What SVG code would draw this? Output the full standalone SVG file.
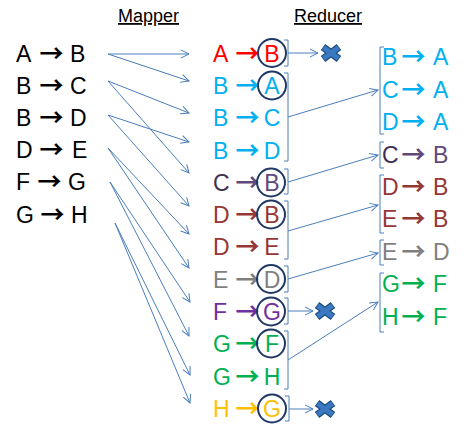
<svg xmlns="http://www.w3.org/2000/svg" width="469" height="436" viewBox="0 0 469 436">
<style>
text{font-family:"Liberation Sans","DejaVu Sans",sans-serif;font-size:23px}
.ar{font-family:"Noto Sans CJK SC","DejaVu Sans",sans-serif;font-weight:bold;font-size:24px}
.hd{font-size:18px;text-decoration:underline}
.k{fill:#000}
.red{fill:#FF0000}.blu{fill:#00B0F0}.pur{fill:#5F497A}.dpu{fill:#403152}.dr{fill:#953735}.gr{fill:#7F7F7F}.vio{fill:#7030A0}.grn{fill:#00B050}.org{fill:#FFC000}
.ring{fill:none;stroke:#1F3864;stroke-width:2}
.br{fill:none;stroke:#4A7EBB;stroke-width:1}
.cn{fill:none;stroke:#4A7EBB;stroke-width:1;marker-end:url(#ah)}
</style>
<defs>
<marker id="ah" markerWidth="10" markerHeight="10" refX="9" refY="5" orient="auto" markerUnits="userSpaceOnUse">
<path d="M1,1 L9,5 L1,9" fill="none" stroke="#4A7EBB" stroke-width="1"/>
</marker>
<g id="xm">
<path d="M-8,-6 L8,6 M-8,6 L8,-6" stroke="#1F4E79" stroke-width="7.5" stroke-linecap="butt"/>
<path d="M-7.5,-5.6 L7.5,5.6 M-7.5,5.6 L7.5,-5.6" stroke="#3B78C2" stroke-width="5" stroke-linecap="butt"/>
</g>
</defs>

<text class="hd" x="118" y="22">Mapper</text>
<text class="hd" x="294" y="22">Reducer</text>

<g id="mapper">
<g id="m1"><text class="k" y="62"><tspan x="16">A</tspan> <tspan class="ar" x="39.5">→</tspan> <tspan x="70">B</tspan></text></g>
<g id="m2"><text class="k" y="94"><tspan x="16">B</tspan> <tspan class="ar" x="39.5">→</tspan> <tspan x="70">C</tspan></text></g>
<g id="m3"><text class="k" y="126"><tspan x="16">B</tspan> <tspan class="ar" x="39.5">→</tspan> <tspan x="70">D</tspan></text></g>
<g id="m4"><text class="k" y="158"><tspan x="16">D</tspan> <tspan class="ar" x="39.5">→</tspan> <tspan x="72">E</tspan></text></g>
<g id="m5"><text class="k" y="190"><tspan x="16">F</tspan> <tspan class="ar" x="37.5">→</tspan> <tspan x="68">G</tspan></text></g>
<g id="m6"><text class="k" y="223"><tspan x="16">G</tspan> <tspan class="ar" x="40.5">→</tspan> <tspan x="71">H</tspan></text></g>
</g>

<g id="reducer">
<g id="r1"><text y="62"><tspan class="red" x="213">A</tspan> <tspan class="ar red" x="235.5">→</tspan> <tspan class="red" x="272" text-anchor="middle">B</tspan></text><circle class="ring" cx="272" cy="53" r="14"/></g>
<g id="r2"><text y="94"><tspan class="blu" x="213">B</tspan> <tspan class="ar blu" x="235.5">→</tspan> <tspan class="blu" x="272" text-anchor="middle">A</tspan></text><circle class="ring" cx="272" cy="85.5" r="14"/></g>
<g id="r3"><text y="126"><tspan class="blu" x="213">B</tspan> <tspan class="ar blu" x="235.5">→</tspan> <tspan class="blu" x="272" text-anchor="middle">C</tspan></text></g>
<g id="r4"><text y="159"><tspan class="blu" x="213">B</tspan> <tspan class="ar blu" x="235.5">→</tspan> <tspan class="blu" x="272" text-anchor="middle">D</tspan></text></g>
<g id="r5"><text y="191"><tspan class="dpu" x="213">C</tspan> <tspan class="ar pur" x="235.5">→</tspan> <tspan class="pur" x="272" text-anchor="middle">B</tspan></text><circle class="ring" cx="271" cy="182.5" r="14"/></g>
<g id="r6"><text y="223"><tspan class="dr" x="213">D</tspan> <tspan class="ar dr" x="235.5">→</tspan> <tspan class="dr" x="272" text-anchor="middle">B</tspan></text><circle class="ring" cx="271" cy="214.5" r="14"/></g>
<g id="r7"><text y="255"><tspan class="dr" x="213">D</tspan> <tspan class="ar dr" x="235.5">→</tspan> <tspan class="dr" x="272" text-anchor="middle">E</tspan></text></g>
<g id="r8"><text y="288"><tspan class="gr" x="213">E</tspan> <tspan class="ar gr" x="235.5">→</tspan> <tspan class="gr" x="272" text-anchor="middle">D</tspan></text><circle class="ring" cx="271" cy="279" r="14"/></g>
<g id="r9"><text y="320"><tspan class="vio" x="213">F</tspan> <tspan class="ar vio" x="235.5">→</tspan> <tspan class="vio" x="272" text-anchor="middle">G</tspan></text><circle class="ring" cx="271" cy="311.5" r="14"/></g>
<g id="r10"><text y="352"><tspan class="grn" x="213">G</tspan> <tspan class="ar grn" x="235.5">→</tspan> <tspan class="grn" x="272" text-anchor="middle">F</tspan></text><circle class="ring" cx="271" cy="343.5" r="14"/></g>
<g id="r11"><text y="385"><tspan class="grn" x="213">G</tspan> <tspan class="ar grn" x="235.5">→</tspan> <tspan class="grn" x="272" text-anchor="middle">H</tspan></text></g>
<g id="r12"><text y="417"><tspan class="org" x="213">H</tspan> <tspan class="ar org" x="235.5">→</tspan> <tspan class="org" x="272" text-anchor="middle">G</tspan></text><circle class="ring" cx="272" cy="408.5" r="14"/></g>
</g>

<g id="brackets-left">
<path class="br" d="M284,40 H288 V66 H284"/>
<path class="br" d="M284,73 H288 V161 H284"/>
<path class="br" d="M284,169 H288 V194 H284"/>
<path class="br" d="M284,201 H288 V259 H284"/>
<path class="br" d="M284,266 H288 V292 H284"/>
<path class="br" d="M284,298 H288 V324 H284"/>
<path class="br" d="M284,331 H288 V389 H284"/>
<path class="br" d="M285,396 H289 V421 H285"/>
</g>

<g id="result">
<path class="br" d="M384,47 H380 V134 H384"/>
<path class="br" d="M384,142 H380 V168 H384"/>
<path class="br" d="M384,175 H380 V233 H384"/>
<path class="br" d="M384,240 H380 V265 H384"/>
<path class="br" d="M384,273 H380 V332 H384"/>
<g id="o1"><text y="65"><tspan class="blu" x="382">B</tspan> <tspan class="ar blu" x="401.5">→</tspan> <tspan class="blu" x="433">A</tspan></text></g>
<g id="o2"><text y="98"><tspan class="blu" x="382">C</tspan> <tspan class="ar blu" x="401.5">→</tspan> <tspan class="blu" x="433">A</tspan></text></g>
<g id="o3"><text y="130"><tspan class="blu" x="382">D</tspan> <tspan class="ar blu" x="401.5">→</tspan> <tspan class="blu" x="433">A</tspan></text></g>
<g id="o4"><text y="163"><tspan class="dpu" x="382">C</tspan> <tspan class="ar pur" x="401.5">→</tspan> <tspan class="pur" x="433">B</tspan></text></g>
<g id="o5"><text y="195"><tspan class="dr" x="382">D</tspan> <tspan class="ar dr" x="401.5">→</tspan> <tspan class="dr" x="433">B</tspan></text></g>
<g id="o6"><text y="227"><tspan class="dr" x="382">E</tspan> <tspan class="ar dr" x="401.5">→</tspan> <tspan class="dr" x="433">B</tspan></text></g>
<g id="o7"><text y="260"><tspan class="gr" x="382">E</tspan> <tspan class="ar gr" x="401.5">→</tspan> <tspan class="gr" x="433">D</tspan></text></g>
<g id="o8"><text y="292"><tspan class="grn" x="382">G</tspan> <tspan class="ar grn" x="401.5">→</tspan> <tspan class="grn" x="433">F</tspan></text></g>
<g id="o9"><text y="325"><tspan class="grn" x="382">H</tspan> <tspan class="ar grn" x="401.5">→</tspan> <tspan class="grn" x="433">F</tspan></text></g>
</g>

<g id="drops">
<use href="#xm" x="331" y="53"/>
<use href="#xm" x="325" y="311"/>
<use href="#xm" x="325" y="409"/>
</g>

<g id="connectors">
<line class="cn" x1="108" y1="54" x2="189" y2="54"/>
<line class="cn" x1="108" y1="54" x2="189" y2="81"/>
<line class="cn" x1="108" y1="81" x2="189" y2="113"/>
<line class="cn" x1="108" y1="81" x2="189" y2="173"/>
<line class="cn" x1="108" y1="115" x2="189" y2="142"/>
<line class="cn" x1="108" y1="115" x2="189" y2="206"/>
<line class="cn" x1="108" y1="148" x2="189" y2="234"/>
<line class="cn" x1="108" y1="148" x2="189" y2="268"/>
<line class="cn" x1="110" y1="182" x2="190" y2="302"/>
<line class="cn" x1="110" y1="182" x2="189" y2="336"/>
<line class="cn" x1="115" y1="223" x2="190" y2="375"/>
<line class="cn" x1="115" y1="223" x2="190" y2="403"/>
<line class="cn" x1="288" y1="53" x2="318" y2="53"/>
<line class="cn" x1="288" y1="117" x2="378" y2="90"/>
<line class="cn" x1="288" y1="182" x2="378" y2="155"/>
<line class="cn" x1="288" y1="231" x2="378" y2="205"/>
<line class="cn" x1="288" y1="279" x2="378" y2="253"/>
<line class="cn" x1="288" y1="311" x2="313" y2="311"/>
<line class="cn" x1="288" y1="360" x2="378" y2="302"/>
<line class="cn" x1="289" y1="409" x2="313" y2="409"/>
</g>
</svg>
